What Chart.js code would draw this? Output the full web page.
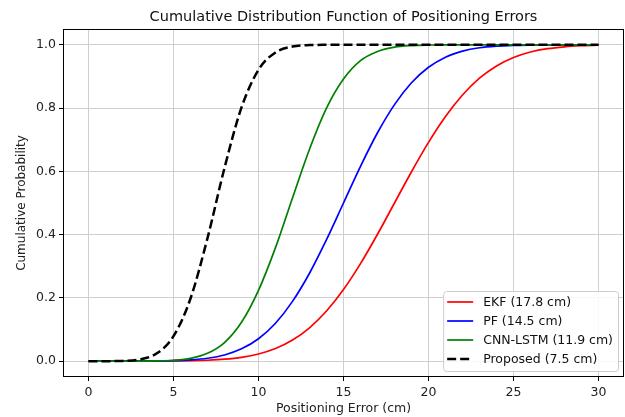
<!DOCTYPE html>
<html>
<head>
<meta charset="utf-8">
<script src="https://cdn.jsdelivr.net/npm/chart.js@4.4.1/dist/chart.umd.min.js"></script>
<style>
  body { margin: 0; background: #fff; }
  canvas { display: block; }
</style>
</head>
<body>
<canvas id="cdf" width="625" height="417"></canvas>
<script>
// values, one per cm of error
const errorCm = [0, 1, 2, 3, 4, 5, 6, 7, 8, 9, 10, 11, 12, 13, 14, 15, 16, 17, 18, 19, 20, 21, 22, 23, 24, 25, 26, 27, 28, 29, 30];
const ekf = [0, 0, 0, 0.0001, 0.0002, 0.0006, 0.0013, 0.003, 0.0062, 0.0122, 0.0228, 0.04, 0.0668, 0.1056, 0.1587, 0.2266, 0.3085, 0.4013, 0.5, 0.5987, 0.6915, 0.7734, 0.8413, 0.8944, 0.9332, 0.96, 0.9772, 0.9878, 0.9938, 0.997, 0.9987];
const pf = [0, 0, 0.0001, 0.0002, 0.0006, 0.0016, 0.0041, 0.0093, 0.0197, 0.039, 0.071, 0.12, 0.189, 0.278, 0.384, 0.5, 0.616, 0.722, 0.811, 0.88, 0.929, 0.961, 0.98, 0.9907, 0.9959, 0.9984, 0.9994, 0.9998, 1, 1, 1];
const cnnLstm = [0, 0, 0, 0.0002, 0.0008, 0.0029, 0.0091, 0.025, 0.059, 0.123, 0.224, 0.359, 0.516, 0.67, 0.8, 0.892, 0.95, 0.979, 0.9927, 0.9977, 0.9994, 0.9999, 1, 1, 1, 1, 1, 1, 1, 1, 1];
const proposed = [0, 0.0001, 0.0009, 0.0055, 0.024, 0.079, 0.198, 0.389, 0.611, 0.802, 0.921, 0.976, 0.9945, 0.9991, 0.9999, 1, 1, 1, 1, 1, 1, 1, 1, 1, 1, 1, 1, 1, 1, 1, 1];

const seriesLabels = ["EKF (17.8 cm)", "PF (14.5 cm)", "CNN-LSTM (11.9 cm)", "Proposed (7.5 cm)"];
const xTicks = [0, 5, 10, 15, 20, 25, 30];
const yTicks = [0, 0.2, 0.4, 0.6, 0.8, 1.0];

const FONT = "'DejaVu Sans', sans-serif";
const GRID = "#cfcfcf";

const toPoints = (ys) => errorCm.map((x, i) => ({ x: x, y: ys[i] }));

// title centred over the axes, like matplotlib does
const titlePlugin = {
  id: "axesTitle",
  afterDraw(chart) {
    const { ctx, chartArea } = chart;
    ctx.save();
    ctx.font = "14.5px " + FONT;
    ctx.fillStyle = "#111";
    ctx.textAlign = "center";
    ctx.textBaseline = "alphabetic";
    ctx.fillText("Cumulative Distribution Function of Positioning Errors", (chartArea.left + chartArea.right) / 2, 21);
    ctx.restore();
  },
};

// four black spines round the plot
const spinesPlugin = {
  id: "spines",
  afterDatasetsDraw(chart) {
    const { ctx, chartArea: a } = chart;
    ctx.save();
    ctx.strokeStyle = "#000";
    ctx.lineWidth = 1;
    ctx.strokeRect(Math.round(a.left) + 0.5, Math.round(a.top) + 0.5, Math.round(a.right - a.left) - 1, Math.round(a.bottom - a.top) - 1);
    ctx.restore();
  },
};

// lower-right legend box
const legendPlugin = {
  id: "boxLegend",
  afterDraw(chart) {
    const { ctx, chartArea: a } = chart;
    const sets = chart.data.datasets;
    ctx.save();
    ctx.font = "12.5px " + FONT;
    let maxW = 0;
    sets.forEach((d) => { maxW = Math.max(maxW, ctx.measureText(d.label).width); });
    const rowH = 19;
    const w = 4 + 26 + 10 + maxW + 5;
    const h = sets.length * rowH + 4;
    const right = a.right - 6;
    const bottom = a.bottom - 6;
    const left = right - w;
    const top = bottom - h;

    ctx.beginPath();
    ctx.roundRect(left + 0.5, top + 0.5, w, h, 3);
    ctx.fillStyle = "rgba(255,255,255,0.85)";
    ctx.fill();
    ctx.strokeStyle = "#cccccc";
    ctx.lineWidth = 1;
    ctx.stroke();

    sets.forEach((d, i) => {
      const cy = top + 11 + i * rowH;
      ctx.beginPath();
      ctx.setLineDash(d.borderDash || []);
      ctx.strokeStyle = d.borderColor;
      ctx.lineWidth = d.borderWidth;
      ctx.moveTo(left + 4, cy);
      ctx.lineTo(left + 30, cy);
      ctx.stroke();
      ctx.setLineDash([]);
      ctx.fillStyle = "#111";
      ctx.textAlign = "left";
      ctx.textBaseline = "middle";
      ctx.fillText(d.label, left + 40, cy + 0.5);
    });
    ctx.restore();
  },
};

new Chart(document.getElementById("cdf"), {
  type: "line",
  data: {
    datasets: [
      { label: seriesLabels[0], data: toPoints(ekf), borderColor: "#ff0000", borderWidth: 1.7, order: 3 },
      { label: seriesLabels[1], data: toPoints(pf), borderColor: "#0000ff", borderWidth: 1.7, order: 2 },
      { label: seriesLabels[2], data: toPoints(cnnLstm), borderColor: "#008000", borderWidth: 1.7, order: 1 },
      { label: seriesLabels[3], data: toPoints(proposed), borderColor: "#000000", borderWidth: 2.5, borderDash: [9, 4], order: 0 },
    ],
  },
  options: {
    responsive: false,
    animation: false,
    elements: {
      point: { radius: 0 },
      line: { cubicInterpolationMode: "monotone", fill: false },
    },
    layout: { padding: { left: 0, right: 1, top: 29, bottom: 0 } },
    plugins: {
      legend: { display: false },
      tooltip: { enabled: false },
      title: { display: false },
    },
    scales: {
      x: {
        type: "linear",
        min: -1.5,
        max: 31.5,
        afterBuildTicks: (scale) => { scale.ticks = xTicks.map((v) => ({ value: v })); },
        afterFit: (scale) => { scale.height = 40; },
        border: { display: false },
        grid: { color: GRID, lineWidth: 1, drawTicks: true, tickLength: 4, tickColor: "#000", tickWidth: 1 },
        ticks: { color: "#222", font: { family: FONT, size: 12.5 }, padding: 4, maxRotation: 0, callback: (v) => String(v) },
        title: { display: true, text: "Positioning Error (cm)", color: "#222", font: { family: FONT, size: 12.5 }, padding: { top: 0, bottom: 1 } },
      },
      y: {
        type: "linear",
        min: -0.05,
        max: 1.05,
        afterBuildTicks: (scale) => { scale.ticks = yTicks.map((v) => ({ value: v })); },
        afterFit: (scale) => { scale.width = 63; },
        border: { display: false },
        grid: { color: GRID, lineWidth: 1, drawTicks: true, tickLength: 4, tickColor: "#000", tickWidth: 1 },
        ticks: { color: "#222", font: { family: FONT, size: 12.5 }, padding: 3, callback: (v) => Number(v).toFixed(1) },
        title: { display: true, text: "Cumulative Probability", color: "#222", font: { family: FONT, size: 12 }, padding: { top: 15, bottom: 0 } },
      },
    },
  },
  plugins: [titlePlugin, spinesPlugin, legendPlugin],
});
</script>
</body>
</html>
